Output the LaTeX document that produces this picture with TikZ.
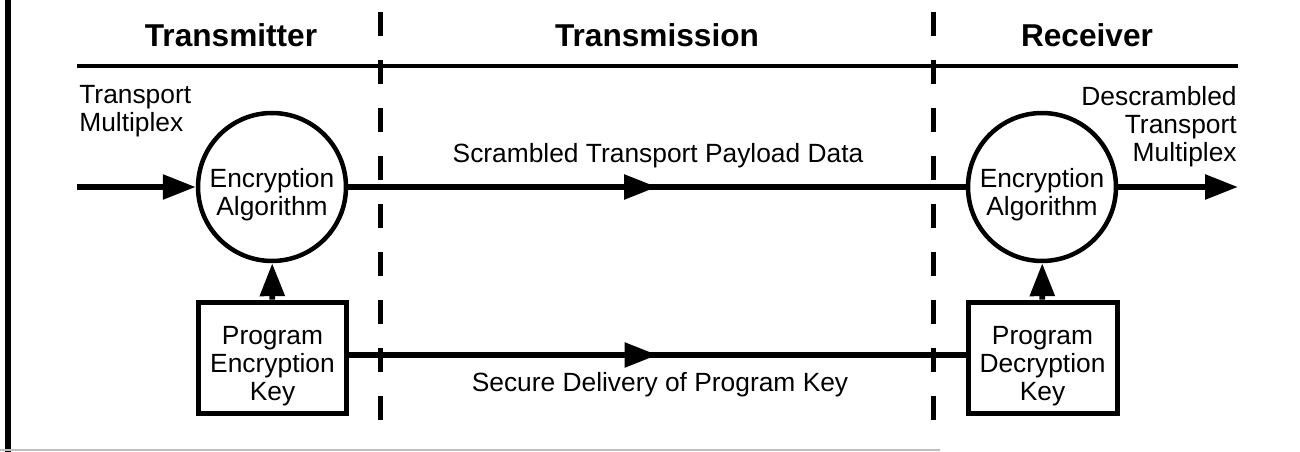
\documentclass[tikz,border=0pt]{standalone}
\usepackage{fontspec}
\setmainfont{Liberation Sans}
\usetikzlibrary{arrows.meta,decorations.markings}
\newcommand\lblfont{\fontsize{15}{16}\selectfont}
\newcommand\hdrfont{\fontsize{18}{20}\selectfont\bfseries}
\newcommand\pushdown{\rule{0pt}{20pt}}
\begin{document}
\begin{tikzpicture}[x=0.02cm,y=-0.02cm,
  >={Triangle[length=0.66cm,width=0.48cm]},
  flow/.style={line width=0.115cm},
  midarrow/.style={flow,postaction={decorate},
    decoration={markings,mark=at position 0.5 with {\arrow{>}}}},
  enc/.style={circle,draw,line width=0.09cm,minimum size=2.96cm,inner sep=0pt,align=center,font=\lblfont},
  keybox/.style={rectangle,draw,line width=0.1cm,minimum width=2.98cm,minimum height=2.24cm,inner sep=0pt,align=center,font=\lblfont},
  hdr/.style={font=\hdrfont,inner sep=0pt,anchor=base},
  lbl/.style={font=\lblfont,inner sep=0pt},
  dashline/.style={line width=0.1cm,dash pattern=on 0.48cm off 0.48cm}]
\useasboundingbox (0,0) rectangle (1300,452);
% frame remnants
\draw[line width=0.11cm] (8,0) -- (8,452);
\draw[gray!50,line width=0.04cm] (0,450) -- (940,450);
% headers
\node[hdr] (h1) at (231,47) {Transmitter};
\node[hdr] (h2) at (657,47) {Transmission};
\node[hdr] (h3) at (1087,47) {Receiver};
\coordinate (hl) at (77,66);
\coordinate (hr) at (1238,66);
\draw[line width=0.075cm] (hl) -- (hr);
% dashed separators
\coordinate (d1t) at (380,12);
\coordinate (d1b) at (380,420);
\coordinate (d2t) at (933,12);
\coordinate (d2b) at (933,420);
\draw[dashline] (d1t) -- (d1b);
\draw[dashline] (d2t) -- (d2b);
% nodes
\node[enc] (lc) at (272,187) {\pushdown Encryption\\Algorithm};
\node[enc] (rc) at (1042,187) {\pushdown Encryption\\Algorithm};
\node[keybox] (lk) at (272.5,358) {\pushdown Program\\Encryption\\Key};
\node[keybox] (rk) at (1042.5,358) {\pushdown Program\\Decryption\\Key};
% labels
\node[lbl,anchor=north west,align=left] (tin) at (79,85) {Transport\\Multiplex};
\node[lbl,anchor=north east,align=right] (tout) at (1237,86) {Descrambled\\Transport\\Multiplex};
\node[lbl,anchor=base] (scr) at (658,163) {Scrambled Transport Payload Data};
\node[lbl,anchor=base] (sec) at (660,391) {Secure Delivery of Program Key};
% connectors
\coordinate (in) at (77,187);
\coordinate (out) at (1238,187);
\draw[flow,->] (in) -- (lc);
\draw[midarrow] (lc) -- (rc);
\draw[flow,->] (rc) -- (out);
\draw[flow,->] (lk) -- (lc);
\draw[flow,->] (rk) -- (rc);
\draw[midarrow] ([yshift=0.06cm]lk.east) -- ([yshift=0.06cm]rk.west);
\end{tikzpicture}
\end{document}
